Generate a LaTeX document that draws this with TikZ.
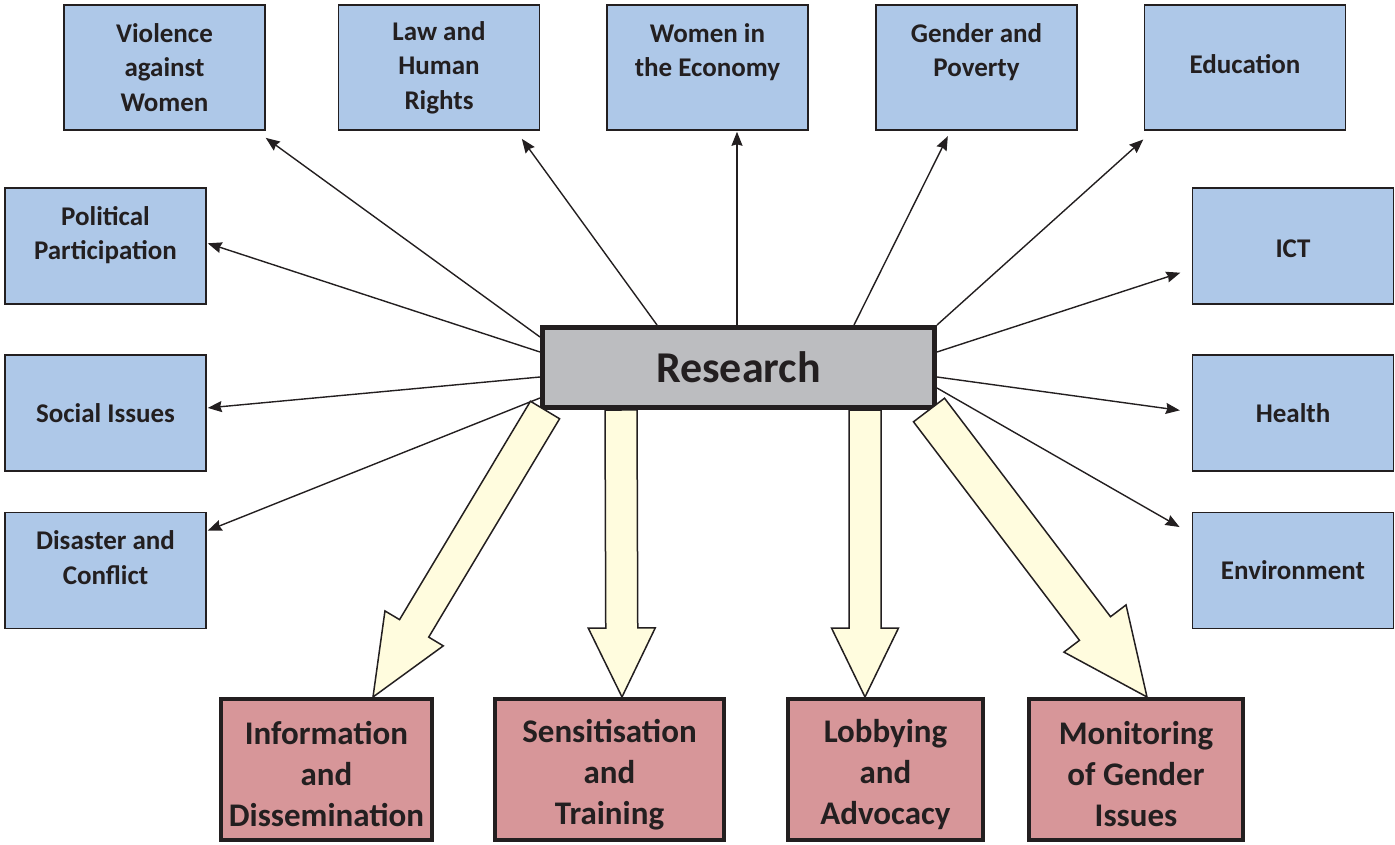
\documentclass[tikz,border=0pt]{standalone}
\usepackage{fontspec}
\setmainfont{Carlito}
\usepackage{tikz}
\usetikzlibrary{positioning,calc,arrows.meta}
\definecolor{topicblue}{RGB}{174,200,232}
\definecolor{hubgray}{RGB}{188,189,192}
\definecolor{actpink}{RGB}{215,150,153}
\definecolor{fatyellow}{RGB}{255,252,222}
\definecolor{inkdark}{RGB}{35,31,32}
\tikzset{
  topic/.style  = {draw=inkdark, fill=topicblue, line width=1.6pt, inner sep=0pt,
                   minimum width=201pt, minimum height=116pt, align=center,
                   text=inkdark, font=\bfseries\fontsize{27}{34.5}\selectfont},
  top topic/.style = {topic, minimum height=125pt},
  hub/.style    = {draw=inkdark, fill=hubgray, line width=5pt,
                   minimum width=392pt, minimum height=80pt,
                   text=inkdark, font=\bfseries\fontsize{44}{50}\selectfont},
  action/.style = {draw=inkdark, fill=actpink, line width=4pt, inner sep=0pt,
                   minimum height=141pt, align=center,
                   text=inkdark, font=\bfseries\fontsize{33}{41}\selectfont},
  post/.style   = {-{Stealth[length=14pt,width=11pt,inset=1.5pt]}, line width=1.4pt, draw=inkdark},
  fat/.style    = {draw=inkdark, fill=fatyellow, line width=1.5pt, line join=miter}
}
% #1 tail, #2 tip, #3 half shaft, #4 half head, #5 head length
\newcommand{\fatarrow}[5]{%
  \coordinate (hb) at ($(#2)!#5!(#1)$);
  \draw[fat] ($(#1)!#3!90:(#2)$) -- ($(hb)!#3!-90:(#1)$) -- ($(hb)!#4!-90:(#1)$)
    -- (#2) -- ($(hb)!#4!90:(#1)$) -- ($(hb)!#3!90:(#1)$) -- ($(#1)!#3!-90:(#2)$) -- cycle;
}
\newcommand{\upstrut}{\rule{0pt}{33pt}}

\begin{document}
\begin{tikzpicture}[x=1pt,y=-1pt]
  \useasboundingbox (0,0) rectangle (1395,845);

  \node[top topic] (violence)  at (164.5,67.5) {Violence\\against\\Women};
  \node[top topic] (law)       at (439,67.5)   {Law and\\Human\\Rights};
  \node[top topic] (economy)   at (707.5,67.5) {Women in\\the Economy\\\mbox{}};
  \node[top topic] (poverty)   at (976.5,67.5) {Gender and\\Poverty\\\mbox{}};
  \node[top topic] (education) at (1245,67.5)  {Education\\[-28pt]\mbox{}};

  \node[topic] (political) at (105.5,246)  {Political\\Participation\\[-8.5pt]\mbox{}};
  \node[topic] (social)    at (105.5,413)  {Social Issues};
  \node[topic] (disaster)  at (105.5,570.5) {Disaster and\\Conflict\\[-8.5pt]\mbox{}};

  \node[topic] (ict)         at (1293,246)   {\rule{0pt}{24pt}ICT};
  \node[topic] (health)      at (1293,413)   {Health};
  \node[topic] (environment) at (1293,570.5) {Environment};

  \node[hub] (research) at (738.5,367.5) {Research};

  \node[action, minimum width=211pt] (info)    at (326.5,769.5) {\upstrut Information\\and\\Dissemination};
  \node[action, minimum width=229pt] (sensit)  at (609.5,769.5) {\upstrut Sensitisation\\and\\Training};
  \node[action, minimum width=195pt] (lobby)   at (885.5,769.5) {\upstrut Lobbying\\and\\Advocacy};
  \node[action, minimum width=214pt] (monitor) at (1136,769.5)  {\upstrut Monitoring\\of Gender\\Issues};

  \draw[post, shorten >=12pt] ([yshift=30.5pt]research.west) -- ([xshift=91.5pt]violence.south);
  \draw[post, shorten >=10pt] ([xshift=-81.5pt]research.north) -- ([xshift=77pt]law.south);
  \draw[post, shorten >=1pt] ([xshift=-1.5pt]research.north) -- ([xshift=-1.5pt]research.north |- economy.south);
  \draw[post, shorten >=6pt] ([xshift=115.5pt]research.north) -- ([xshift=-26pt]poverty.south);
  \draw[post, shorten >=13pt] (research.north east) -- ([xshift=-92pt]education.south);
  \draw[post, shorten >=1pt] ([yshift=15.5pt]research.west) -- ([yshift=3pt]political.east);
  \draw[post, shorten >=1pt] ([yshift=-9.5pt]research.west) -- ([yshift=5pt]social.east);
  \draw[post, shorten >=1pt] ([yshift=-30.5pt]research.west) -- ([yshift=39.5pt]disaster.east);
  \draw[post, shorten >=12pt] ([yshift=15.5pt]research.east) -- ([yshift=-23pt]ict.west);
  \draw[post, shorten >=12pt] ([yshift=-9.5pt]research.east) -- ([yshift=1pt]health.west);
  \draw[post, shorten >=14pt] ([yshift=-20.5pt]research.east) -- ([yshift=36.5pt]environment.west);

  \coordinate (infotail)  at ([xshift=5pt]research.south west);
  \coordinate (infotip)   at ([xshift=46.5pt]info.north);
  \coordinate (sensittail) at ([xshift=-117.5pt]research.south);
  \coordinate (sensittip)  at ([xshift=12.5pt]sensit.north);
  \coordinate (lobbytail) at ([xshift=126.5pt]research.south);
  \coordinate (lobbytip)  at ([xshift=-20.5pt]lobby.north);
  \coordinate (montail)   at ([xshift=-8pt]research.south east);
  \coordinate (montip)    at ([xshift=11pt]monitor.north);

  \fatarrow{infotail}{infotip}{17pt}{34pt}{80pt}
  \fatarrow{sensittail}{sensittip}{16pt}{33.5pt}{69pt}
  \fatarrow{lobbytail}{lobbytip}{16pt}{33.5pt}{69pt}
  \fatarrow{montail}{montip}{19.5pt}{39pt}{86pt}
\end{tikzpicture}
\end{document}
